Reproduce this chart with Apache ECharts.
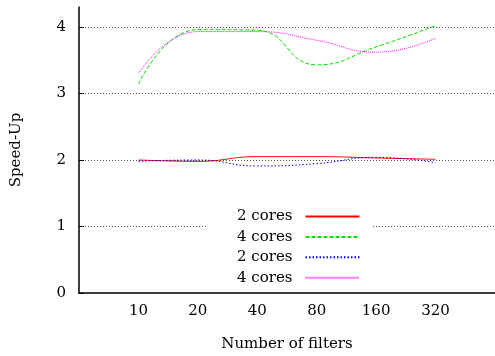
<!DOCTYPE html>
<html><head><meta charset="utf-8">
<script src="https://cdn.jsdelivr.net/npm/echarts@6/dist/echarts.min.js"></script>
<style>html,body{margin:0;padding:0;background:#fff}#c{width:495px;height:356px}</style>
</head><body><div id="c"></div>
<script>
var categories = ['10', '20', '40', '80', '160', '320'];
var seriesNames = ['2 cores', '4 cores', '2 cores', '4 cores'];
var red2 = [2.00, 1.98, 2.05, 2.05, 2.03, 2.01];
var green4 = [3.14, 3.96, 3.95, 3.43, 3.70, 4.02];
var blue2 = [1.98, 2.00, 1.91, 1.945, 2.04, 1.96];
var magenta4 = [3.30, 3.93, 3.93, 3.80, 3.62, 3.83];
var yTicks = [0, 1, 2, 3, 4];

var font = 'DejaVu Serif';
function pts(vals) { return vals.map(function (v, i) { return [i + 1, v]; }); }
var styles = [
  { color: '#ff0000', type: 'solid' },
  { color: '#00e000', type: [4, 2] },
  { color: '#0000ff', type: [1.5, 2] },
  { color: '#ff00ff', type: [1, 1] }
];
var vals = [red2, green4, blue2, magenta4];
var series = vals.map(function (v, k) {
  return {
    type: 'line', name: seriesNames[k] + '\u200b'.repeat(k), data: pts(v),
    smooth: 0.5, symbol: 'none',
    lineStyle: { color: styles[k].color, width: 1, type: styles[k].type },
    itemStyle: { color: styles[k].color },
    z: 3
  };
});
var chart = echarts.init(document.getElementById('c'), null, { renderer: 'canvas' });
chart.setOption({
  animation: false,
  textStyle: { fontFamily: font },
  grid: { left: 79, right: 0, top: 7, bottom: 63, outerBoundsMode: 'none', containLabel: false },
  xAxis: {
    type: 'value', min: 0, max: 7, interval: 1,
    name: 'Number of filters', nameLocation: 'middle', nameGap: 44,
    nameTextStyle: { fontFamily: font, fontSize: 15, color: '#000' },
    axisLine: { show: true, lineStyle: { color: '#000', width: 1.5 } },
    axisTick: { show: false },
    splitLine: { show: false },
    axisLabel: {
      fontFamily: font, fontSize: 15, color: '#000', margin: 11,
      formatter: function (v) { return categories[v - 1] || ''; }
    }
  },
  yAxis: {
    type: 'value', min: 0, max: 4.3, interval: 1,
    name: 'Speed-Up', nameLocation: 'middle', nameGap: 55, nameRotate: 90,
    nameTextStyle: { fontFamily: font, fontSize: 15, color: '#000' },
    axisLine: { show: true, lineStyle: { color: '#000', width: 1.5 } },
    axisTick: { show: true, inside: true, length: 5, lineStyle: { color: '#000' } },
    axisLabel: {
      fontFamily: font, fontSize: 15, color: '#000', margin: 13, showMaxLabel: false,
      formatter: function (v) { return yTicks.indexOf(v) >= 0 ? String(v) : ''; }
    },
    splitLine: { show: true, showMaxLine: false, showMinLine: false, lineStyle: { color: '#555', width: 1, type: [1, 2] } }
  },
  legend: {
    orient: 'vertical', left: 207, top: 206, align: 'right',
    itemWidth: 54, itemHeight: 14, itemGap: 5.4,
    padding: [3, 12, 1, 30],
    backgroundColor: '#fff',
    itemStyle: { color: 'transparent', borderWidth: 0, opacity: 0 },
    textStyle: { fontFamily: font, fontSize: 15, color: '#000', padding: [0, 8, 0, 0] },
    formatter: function (n) { return n.replace(/\u200b/g, ''); },
    data: series.map(function (s) { return s.name; })
  },
  series: series
});
</script></body></html>
